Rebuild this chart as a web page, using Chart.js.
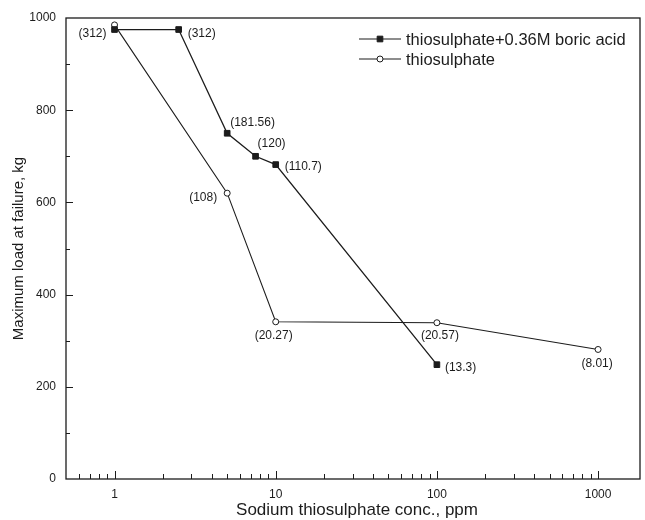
<!DOCTYPE html>
<html>
<head>
<meta charset="utf-8">
<script src="https://cdn.jsdelivr.net/npm/chart.js@4.4.1/dist/chart.umd.min.js"></script>
<style>
  html, body { margin: 0; padding: 0; background: #fff; }
  #wrap { width: 645px; height: 520px; }
</style>
</head>
<body>
<div id="wrap"><canvas id="c" width="645" height="520"></canvas></div>
<script>
// Sodium thiosulphate concentration (ppm) and maximum load at failure (kg)
const concBoric = [1, 2.5, 5, 7.5, 10, 100];
const loadBoric = [975, 975, 750, 700, 682, 248];
const notesBoric = ['(312)', '(312)', '(181.56)', '(120)', '(110.7)', '(13.3)'];

const concThio = [1, 5, 10, 100, 1000];
const loadThio = [985, 620, 341, 339, 281];
const notesThio = [null, '(108)', '(20.27)', '(20.57)', '(8.01)'];

const seriesNames = ['thiosulphate+0.36M boric acid', 'thiosulphate'];
const xMajorTicks = [1, 10, 100, 1000];
const yMajorTicks = [0, 200, 400, 600, 800, 1000];

const xTitle = 'Sodium thiosulphate conc., ppm';
const yTitle = 'Maximum load at failure, kg';

// where each bracketed note sits around its marker: [align, dx, dy]
const notePlaceBoric = [['right', -8, 4], ['left', 9, 4], ['left', 3, -11], ['center', 16, -13], ['left', 9, 2], ['left', 8, 3]];
const notePlaceThio = [null, ['right', -10, 5], ['center', -2, 14], ['center', 3, 13], ['center', -1, 14]];

const FONT = "'Liberation Sans', Arial, Helvetica, sans-serif";
const INK = '#1c1c1c';

const toPoints = (xs, ys) => xs.map((x, i) => ({ x: x, y: ys[i] }));

// frame, inward tick marks, notes, legend and axis titles
const decor = {
  id: 'decor',
  afterDraw(chart) {
    const ctx = chart.ctx;
    const a = chart.chartArea;
    const xs = chart.scales.x, ys = chart.scales.y;
    ctx.save();
    ctx.strokeStyle = INK;
    ctx.lineWidth = 1.3;
    ctx.strokeRect(a.left, a.top, a.right - a.left, a.bottom - a.top);

    ctx.lineWidth = 1;
    ctx.beginPath();
    // x ticks (log decades with minor marks)
    for (let d = 0.1; d <= 1000; d *= 10) {
      for (let k = 1; k <= 9; k++) {
        const v = +(k * d).toPrecision(3);
        if (v <= xs.min || v >= xs.max) continue;
        const major = xMajorTicks.includes(v);
        const px = Math.round(xs.getPixelForValue(v)) + 0.5;
        ctx.moveTo(px, a.bottom);
        ctx.lineTo(px, a.bottom - (major ? 8 : 5));
      }
    }
    // y ticks
    for (let v = 100; v < 1000; v += 100) {
      const major = yMajorTicks.includes(v);
      const py = Math.round(ys.getPixelForValue(v)) + 0.5;
      ctx.moveTo(a.left, py);
      ctx.lineTo(a.left + (major ? 7 : 4), py);
    }
    ctx.stroke();

    // bracketed notes beside the markers
    ctx.fillStyle = INK;
    ctx.font = '12px ' + FONT;
    ctx.textBaseline = 'middle';
    const notes = [notesBoric, notesThio];
    const places = [notePlaceBoric, notePlaceThio];
    chart.data.datasets.forEach((ds, di) => {
      const meta = chart.getDatasetMeta(di);
      meta.data.forEach((pt, i) => {
        const txt = notes[di][i];
        const pl = places[di][i];
        if (!txt || !pl) return;
        ctx.textAlign = pl[0];
        ctx.fillText(txt, pt.x + pl[1], pt.y + pl[2]);
      });
    });

    // legend
    const lx = a.right - 281, ly = a.top + 21;
    chart.data.datasets.forEach((ds, di) => {
      const y = ly + di * 20;
      ctx.strokeStyle = INK;
      ctx.lineWidth = 1.2;
      ctx.beginPath();
      ctx.moveTo(lx, y);
      ctx.lineTo(lx + 42, y);
      ctx.stroke();
      ctx.fillStyle = ds.pointBackgroundColor;
      ctx.strokeStyle = ds.pointBorderColor;
      ctx.lineWidth = ds.pointBorderWidth;
      Chart.helpers.drawPoint(ctx, { pointStyle: ds.pointStyle, radius: ds.pointRadius, rotation: 0, borderWidth: ds.pointBorderWidth }, lx + 21, y);
      ctx.fillStyle = INK;
      ctx.textAlign = 'left';
      ctx.font = '16.5px ' + FONT;
      ctx.fillText(ds.label, lx + 47, y + 1);
    });

    // axis titles
    ctx.fillStyle = INK;
    ctx.font = '17px ' + FONT;
    ctx.textAlign = 'center';
    ctx.textBaseline = 'middle';
    ctx.fillText(xTitle, (a.left + a.right) / 2 + 4, 510);
    ctx.translate(19, (a.top + a.bottom) / 2);
    ctx.rotate(-Math.PI / 2);
    ctx.font = '15px ' + FONT;
    ctx.fillText(yTitle, 0, 0);
    ctx.restore();
  }
};

new Chart(document.getElementById('c'), {
  type: 'scatter',
  data: {
    datasets: [
      {
        label: seriesNames[0],
        data: toPoints(concBoric, loadBoric),
        showLine: true,
        borderColor: INK,
        borderWidth: 1.3,
        pointStyle: 'rect',
        pointRadius: 4,
        pointBackgroundColor: INK,
        pointBorderColor: INK,
        pointBorderWidth: 1
      },
      {
        label: seriesNames[1],
        data: toPoints(concThio, loadThio),
        showLine: true,
        borderColor: INK,
        borderWidth: 1.1,
        pointStyle: 'circle',
        pointRadius: 3,
        pointBackgroundColor: '#ffffff',
        pointBorderColor: INK,
        pointBorderWidth: 1
      }
    ]
  },
  options: {
    responsive: false,
    animation: false,
    layout: { padding: { top: 18, right: 3, left: 0, bottom: 0 } },
    plugins: { legend: { display: false }, tooltip: { enabled: false } },
    scales: {
      x: {
        type: 'logarithmic',
        min: 0.5,
        max: 1820,
        grid: { display: false, drawTicks: false },
        border: { display: false },
        afterBuildTicks: s => { s.ticks = xMajorTicks.map(v => ({ value: v })); },
        afterFit: s => { s.height = 41; },
        ticks: {
          autoSkip: false, maxRotation: 0, minRotation: 0, padding: 8,
          color: INK, font: { family: FONT, size: 12 },
          callback: v => String(v)
        }
      },
      y: {
        min: 0,
        max: 1000,
        grid: { display: false, drawTicks: false },
        border: { display: false },
        afterBuildTicks: s => { s.ticks = yMajorTicks.map(v => ({ value: v })); },
        afterFit: s => { s.width = 66; },
        ticks: {
          autoSkip: false, padding: 10,
          color: INK, font: { family: FONT, size: 12 },
          callback: v => String(v)
        }
      }
    }
  },
  plugins: [decor]
});
</script>
</body>
</html>
